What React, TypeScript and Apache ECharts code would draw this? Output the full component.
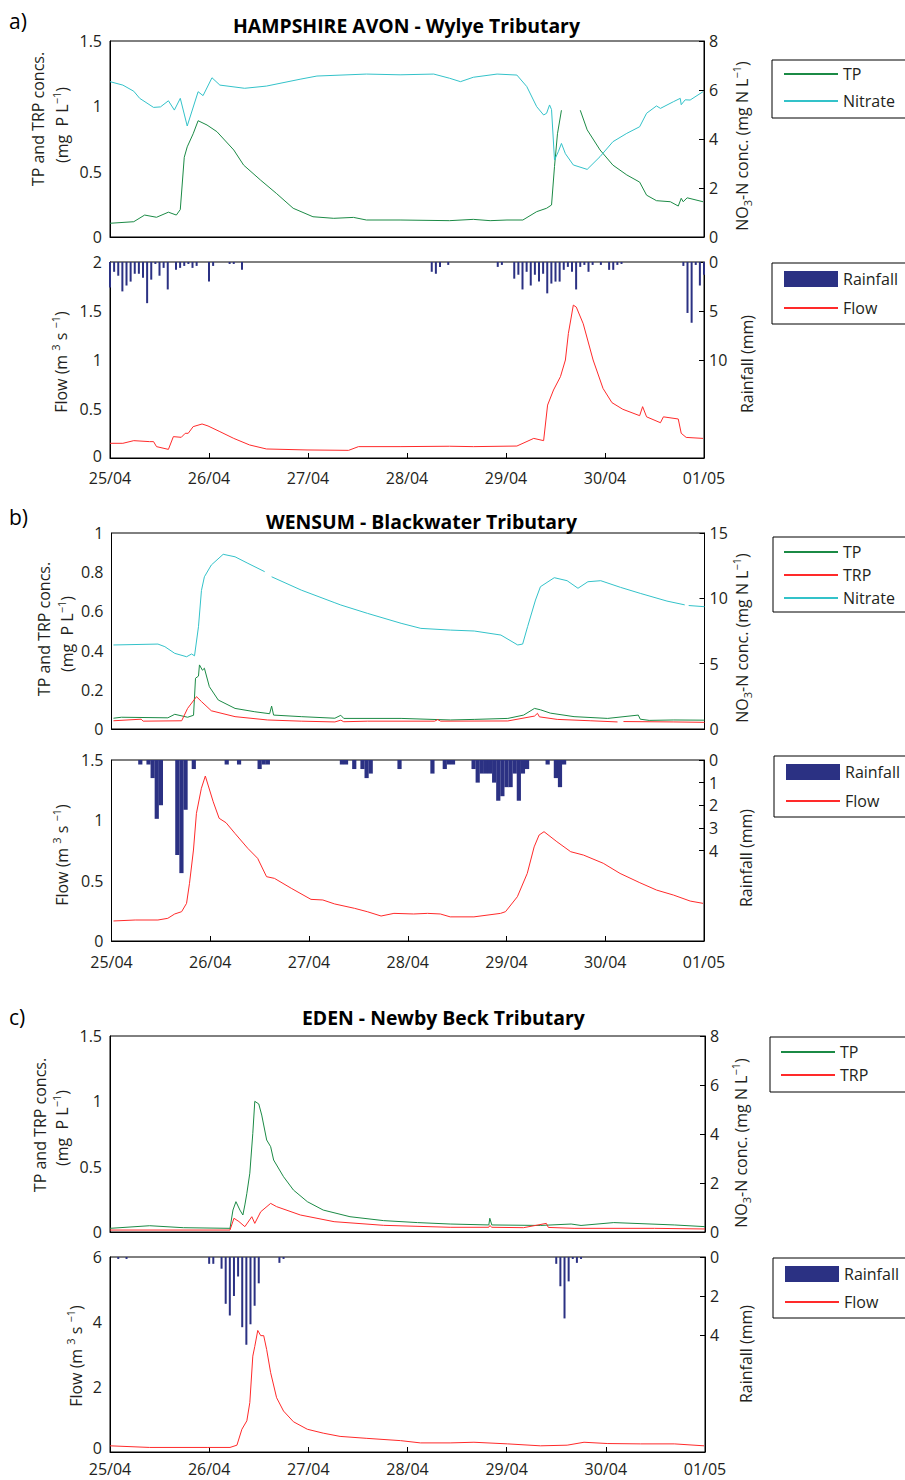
import React, { useEffect, useRef } from 'react';
import * as echarts from 'echarts';

const DAY_LABELS = ['25/04', '26/04', '27/04', '28/04', '29/04', '30/04', '01/05'];

// ---- Panel a: HAMPSHIRE AVON - Wylye (x = days since 25/04 00:00) ----
const aTP = [[0,0.105],[0.24,0.117],[0.35,0.168],[0.47,0.151],[0.59,0.19],[0.67,0.168],[0.71,0.21],[0.75,0.61],[0.78,0.69],[0.84,0.79],[0.89,0.89],[0.98,0.857],[1.08,0.806],[1.25,0.666],[1.35,0.55],[1.52,0.436],[1.68,0.334],[1.85,0.22],[2.05,0.155],[2.26,0.143],[2.46,0.15],[2.59,0.13],[2.93,0.13],[3.43,0.125],[3.67,0.135],[3.84,0.125],[4.01,0.13],[4.17,0.13],[4.31,0.194],[4.41,0.22],[4.46,0.245],[4.49,0.54],[4.52,0.79],[4.56,0.97],[4.65,null],[4.75,0.97],[4.82,0.82],[4.95,0.666],[5.08,0.55],[5.22,0.475],[5.35,0.42],[5.42,0.32],[5.52,0.278],[5.66,0.27],[5.74,0.237],[5.77,0.296],[5.79,0.27],[5.83,0.3],[5.99,0.27]];
const aNitrate = [[0,6.34],[0.13,6.2],[0.24,5.95],[0.3,5.66],[0.44,5.29],[0.51,5.31],[0.59,5.56],[0.65,5.18],[0.71,5.66],[0.78,4.53],[0.89,5.93],[0.94,5.77],[1.03,6.5],[1.11,6.2],[1.36,6.07],[1.58,6.16],[1.92,6.44],[2.09,6.57],[2.59,6.65],[2.93,6.62],[3.27,6.65],[3.43,6.48],[3.54,6.34],[3.67,6.52],[3.91,6.65],[4.11,6.61],[4.21,6.14],[4.31,5.32],[4.38,4.98],[4.41,5.05],[4.44,5.39],[4.46,5.2],[4.49,3.14],[4.53,3.5],[4.56,3.82],[4.6,3.4],[4.68,2.94],[4.82,2.76],[4.95,3.28],[5.08,3.89],[5.22,4.23],[5.35,4.5],[5.42,5.05],[5.52,5.35],[5.56,5.25],[5.69,5.52],[5.76,5.66],[5.77,5.4],[5.81,5.6],[5.86,5.59],[5.99,5.93]];
const aFlow = [[0,0.15],[0.13,0.15],[0.24,0.177],[0.4,0.167],[0.44,0.167],[0.47,0.116],[0.59,0.088],[0.64,0.218],[0.72,0.211],[0.76,0.252],[0.79,0.252],[0.84,0.32],[0.93,0.347],[0.99,0.327],[1.11,0.269],[1.25,0.2],[1.41,0.133],[1.58,0.092],[1.99,0.082],[2.41,0.078],[2.51,0.116],[2.93,0.116],[3.43,0.12],[3.67,0.116],[4.11,0.122],[4.28,0.2],[4.38,0.177],[4.42,0.54],[4.48,0.694],[4.55,0.83],[4.6,1.0],[4.63,1.27],[4.68,1.56],[4.71,1.54],[4.78,1.37],[4.88,1.0],[4.98,0.71],[5.07,0.565],[5.18,0.497],[5.35,0.432],[5.38,0.524],[5.42,0.42],[5.56,0.36],[5.59,0.42],[5.74,0.398],[5.77,0.252],[5.82,0.21],[5.99,0.2]];
// rainfall: [hour since 25/04 00:00, mm]
const aRain = [[0,2.6],[1,1.0],[2,1.4],[3,3.0],[4,2.4],[5,2.0],[6,1.2],[7,1.2],[8,1.6],[9,4.2],[10,1.8],[11,0.2],[12,1.4],[13,0.6],[14,2.8],[16,0.8],[17,0.6],[18,0.4],[19,0.2],[20,0.6],[21,0.4],[24,2.0],[25,0.4],[29,0.2],[30,0.2],[32,0.8],[78,1.0],[79,1.2],[80,0.5],[82,0.3],[94,0.5],[95,0.3],[98,1.7],[99,1.3],[100,2.8],[101,1.0],[102,2.4],[103,1.3],[104,2.0],[105,1.2],[106,3.2],[107,2.2],[108,2.0],[109,2.0],[110,0.8],[111,0.5],[112,1.0],[113,2.8],[114,0.5],[115,0.3],[116,1.0],[117,0.3],[119,0.3],[121,0.8],[122,0.8],[123,0.3],[124,0.2],[139,0.4],[140,5.2],[141,6.2],[142,0.3],[143,2.4],[144,1.3]];

// ---- Panel b: WENSUM - Blackwater ----
const bTP = [[0.02,0.055],[0.1,0.06],[0.57,0.057],[0.64,0.075],[0.77,0.06],[0.83,0.07],[0.85,0.259],[0.88,0.27],[0.89,0.327],[0.92,0.3],[0.94,0.31],[0.99,0.216],[1.08,0.148],[1.25,0.105],[1.45,0.088],[1.6,0.078],[1.62,0.117],[1.64,0.071],[1.92,0.063],[2.26,0.055],[2.32,0.07],[2.35,0.054],[2.93,0.054],[3.43,0.046],[3.67,0.049],[4.01,0.054],[4.17,0.071],[4.28,0.105],[4.34,0.098],[4.44,0.081],[4.68,0.063],[5.02,0.054],[5.33,0.071],[5.35,0.05],[5.44,0.044],[5.69,0.046],[6.0,0.045]];
const bTRP = [[0.02,0.042],[0.3,0.05],[0.32,0.04],[0.71,0.042],[0.77,0.105],[0.86,0.165],[0.91,0.14],[1.01,0.093],[1.25,0.063],[1.58,0.046],[1.92,0.04],[2.26,0.036],[2.32,0.045],[2.35,0.037],[2.59,0.04],[3.27,0.04],[3.3,0.048],[3.33,0.04],[4.01,0.041],[4.28,0.066],[4.31,0.08],[4.33,0.062],[4.51,0.049],[4.85,0.042],[5.12,0.036],[5.15,null],[5.18,0.038],[5.69,0.036],[6.0,0.034]];
const bNitrate = [[0.02,6.43],[0.47,6.5],[0.54,6.3],[0.64,5.79],[0.76,5.53],[0.81,5.74],[0.84,5.6],[0.88,7.83],[0.91,10.6],[0.94,11.65],[1.01,12.55],[1.13,13.37],[1.25,13.18],[1.38,12.68],[1.55,12.04],[1.58,null],[1.62,11.65],[1.92,10.63],[2.26,9.66],[2.32,9.49],[2.59,8.85],[2.93,8.09],[3.13,7.7],[3.43,7.57],[3.67,7.5],[3.94,7.19],[4.11,6.43],[4.16,6.5],[4.21,7.83],[4.29,9.87],[4.34,10.89],[4.48,11.58],[4.61,11.35],[4.72,10.77],[4.82,11.27],[4.95,11.35],[5.15,10.84],[5.35,10.38],[5.62,9.79],[5.8,9.5],[5.82,null],[5.84,9.45],[6.0,9.36]];
const bFlow = [[0.02,0.166],[0.24,0.174],[0.47,0.174],[0.57,0.188],[0.64,0.224],[0.71,0.243],[0.76,0.312],[0.79,0.478],[0.83,0.754],[0.86,1.058],[0.91,1.265],[0.95,1.367],[1.03,1.154],[1.09,1.017],[1.16,0.98],[1.25,0.892],[1.38,0.768],[1.48,0.685],[1.57,0.533],[1.65,0.519],[1.82,0.437],[2.02,0.345],[2.14,0.34],[2.26,0.307],[2.46,0.271],[2.59,0.243],[2.73,0.207],[2.86,0.229],[3.06,0.224],[3.2,0.229],[3.33,0.224],[3.43,0.2],[3.67,0.2],[3.94,0.229],[3.99,0.243],[4.11,0.367],[4.21,0.56],[4.28,0.78],[4.33,0.878],[4.38,0.906],[4.51,0.823],[4.65,0.74],[4.78,0.712],[4.98,0.644],[5.15,0.56],[5.35,0.483],[5.52,0.422],[5.69,0.381],[5.86,0.331],[5.99,0.312]];
const bRain = [[7,0.2],[9,0.2],[10,0.8],[11,2.6],[12,2.0],[16,4.2],[17,5.0],[18,2.2],[20,0.4],[28,0.2],[31,0.2],[36,0.4],[37,0.2],[38,0.2],[56,0.2],[57,0.2],[59,0.4],[61,0.4],[62,0.8],[63,0.6],[70,0.4],[78,0.6],[81,0.4],[82,0.2],[83,0.2],[88,0.4],[89,1.0],[90,0.6],[91,0.6],[92,0.6],[93,1.0],[94,1.8],[95,1.6],[96,1.2],[97,1.2],[98,0.6],[99,1.8],[100,0.6],[101,0.4],[106,0.2],[108,0.8],[109,1.2],[110,0.2]];

// ---- Panel c: EDEN - Newby Beck ----
const cTP = [[0,0.028],[0.4,0.048],[0.74,0.033],[1.21,0.028],[1.24,0.168],[1.27,0.232],[1.31,0.168],[1.34,0.13],[1.36,0.207],[1.38,0.296],[1.41,0.45],[1.44,0.755],[1.46,1.0],[1.5,0.98],[1.53,0.895],[1.58,0.704],[1.62,0.653],[1.65,0.551],[1.75,0.423],[1.85,0.321],[1.99,0.232],[2.15,0.168],[2.42,0.117],[2.76,0.087],[3.1,0.072],[3.43,0.061],[3.82,0.054],[3.83,0.105],[3.85,0.054],[4.34,0.05],[4.65,0.061],[4.75,0.05],[5.08,0.072],[5.69,0.054],[6.0,0.041]];
const cTRP = [[0,0.015],[1.21,0.015],[1.25,0.105],[1.3,0.08],[1.36,0.041],[1.43,0.117],[1.46,0.066],[1.52,0.155],[1.62,0.219],[1.68,0.194],[1.92,0.13],[2.26,0.079],[2.76,0.051],[3.43,0.036],[3.82,0.036],[3.83,0.05],[3.85,0.036],[4.17,0.033],[4.4,0.066],[4.42,0.035],[4.68,0.028],[5.49,0.028],[6.0,0.023]];
const cFlow = [[0,0.19],[0.4,0.14],[0.98,0.14],[1.21,0.14],[1.28,0.21],[1.33,0.7],[1.38,0.96],[1.41,1.52],[1.44,2.95],[1.46,3.25],[1.49,3.74],[1.52,3.58],[1.55,3.58],[1.58,3.15],[1.62,2.44],[1.68,1.67],[1.75,1.26],[1.85,0.93],[1.99,0.7],[2.15,0.58],[2.32,0.48],[2.59,0.42],[2.93,0.35],[3.13,0.28],[3.43,0.28],[3.67,0.3],[4.01,0.25],[4.34,0.19],[4.61,0.21],[4.78,0.3],[5.02,0.26],[5.35,0.25],[5.69,0.25],[5.99,0.19]];
const cRain = [[2,0.1],[4,0.1],[24,0.35],[25,0.35],[27,0.6],[28,2.4],[29,3.0],[30,2.0],[31,1.0],[32,3.6],[33,4.5],[34,3.45],[35,2.5],[36,1.35],[41,0.3],[42,0.1],[108,0.35],[109,1.5],[110,3.15],[111,1.25],[112,0.1],[113,0.3],[114,0.1]];

const F = "'Open Sans', 'Noto Sans', sans-serif";
const INK = '#231f20';
const GREEN = '#1b8a45';
const CYAN = '#33c2c9';
const RED = '#ff2a2a';
const NAVY = '#2b3183';

const GRIDS = [
  { left: 110, top: 41, width: 594, height: 196 },
  { left: 110, top: 262, width: 594, height: 196 },
  { left: 111.5, top: 533, width: 593, height: 196 },
  { left: 111.5, top: 760, width: 592.5, height: 181 },
  { left: 110, top: 1036, width: 595, height: 196 },
  { left: 110, top: 1257, width: 595, height: 195 },
];
const X_LABEL_MARGIN = [0, 14, 0, 15, 0, 11];

const rich = {
  n: { fontSize: 16, fontFamily: F, fill: INK, lineHeight: 22 },
  sup: { fontSize: 11, fontFamily: F, fill: INK, verticalAlign: 'top', lineHeight: 12 },
  sub: { fontSize: 11, fontFamily: F, fill: INK, verticalAlign: 'bottom', lineHeight: 12 },
};

function vText(text: string, x: number, y: number) {
  return {
    type: 'text', x, y, rotation: Math.PI / 2, silent: true,
    style: { text, rich, align: 'center', verticalAlign: 'middle', textAlign: 'center', textVerticalAlign: 'middle' },
  };
}
function hText(text: string, x: number, y: number, size: number, bold: boolean) {
  return {
    type: 'text', x, y, silent: true,
    style: { text, fill: '#000', fontSize: size, fontFamily: F, fontWeight: bold ? 'bold' : 'normal', align: 'left', verticalAlign: 'middle', textAlign: 'left', textVerticalAlign: 'middle' },
  };
}

const TP_LBL1 = '{n|TP and TRP concs.}';
const TP_LBL2 = '{n|(mg  P L}{sup|−1}{n|)}';
const NO3_LBL = '{n|NO}{sub|3}{n|-N conc. (mg N L}{sup|−1}{n|)}';
const FLOW_LBL = '{n|Flow (m }{sup|3}{n| s }{sup|−1}{n|)}';
const RAIN_LBL = '{n|Rainfall (mm)}';

function buildOption() {
  const xAxis = GRIDS.map((g, i) => {
    const bottom = i % 2 === 1;
    return {
      type: 'value', gridIndex: i, min: 0, max: 6, interval: 1,
      axisLine: { show: true, lineStyle: { color: '#000', width: 1 } },
      axisTick: { show: bottom, inside: true, length: 5, lineStyle: { color: '#000' } },
      axisLabel: {
        show: bottom, margin: X_LABEL_MARGIN[i], fontSize: 16, lineHeight: 12, fontFamily: F, color: INK,
        formatter: (v: number) => DAY_LABELS[Math.round(v)] ?? '',
      },
      splitLine: { show: false },
    };
  });
  const leftAxis = (gi: number, max: number, interval: number, liftZero = 0) => ({
    type: 'value', gridIndex: gi, position: 'left', min: 0, max, interval,
    axisLine: { show: true, lineStyle: { color: '#000' } },
    axisTick: { show: false },
    axisLabel: liftZero
      ? {
          margin: 8, fontSize: 16, lineHeight: 12, fontFamily: F, color: INK,
          formatter: (v: number) => (v === 0 ? '{z|0}' : String(v)),
          rich: { z: { fontSize: 16, fontFamily: F, color: INK, lineHeight: 12, padding: [0, 0, liftZero, 0] } },
        }
      : { margin: 8, fontSize: 16, lineHeight: 12, fontFamily: F, color: INK },
    splitLine: { show: false },
  });
  const rightAxis = (gi: number, max: number, interval: number, inverse = false, shown?: number[]) => ({
    type: 'value', gridIndex: gi, position: 'right', min: 0, max, interval, inverse,
    axisLine: { show: true, lineStyle: { color: '#000' } },
    axisTick: shown
      ? { show: true, inside: true, length: 5, lineStyle: { color: '#000' }, customValues: shown }
      : { show: true, inside: true, length: 5, lineStyle: { color: '#000' } },
    axisLabel: shown
      ? { margin: 5, fontSize: 16, lineHeight: 12, fontFamily: F, color: INK, customValues: shown, formatter: (v: number) => (shown.indexOf(v) >= 0 ? String(v) : '') }
      : { margin: 5, fontSize: 16, lineHeight: 12, fontFamily: F, color: INK },
    splitLine: { show: false },
  });
  const yAxis = [
    leftAxis(0, 1.5, 0.5), rightAxis(0, 8, 2),
    leftAxis(1, 2, 0.5, 4), rightAxis(1, 20, 5, true, [0, 5, 10]),
    leftAxis(2, 1, 0.2), rightAxis(2, 15, 5),
    leftAxis(3, 1.5, 0.5), rightAxis(3, 8, 1, true, [0, 1, 2, 3, 4]),
    leftAxis(4, 1.5, 0.5), rightAxis(4, 8, 2),
    leftAxis(5, 6, 2, 8), rightAxis(5, 10, 2, true, [0, 2, 4]),
  ];
  const line = (name: string, data: any[], color: string, xi: number, yi: number) => ({
    type: 'line', name, data, xAxisIndex: xi, yAxisIndex: yi, showSymbol: false, symbol: 'none',
    connectNulls: false, lineStyle: { color, width: 1 }, itemStyle: { color }, z: 3,
  });
  const bars = (data: number[][], xi: number, yi: number, w: number) => ({
    type: 'bar', name: 'Rainfall', data: data.map(([h, v]) => [h / 24, v]), xAxisIndex: xi, yAxisIndex: yi,
    barWidth: w, itemStyle: { color: NAVY }, z: 2,
  });
  const series = [
    line('TP', aTP, GREEN, 0, 0), line('Nitrate', aNitrate, CYAN, 0, 1),
    bars(aRain, 1, 3, 2), line('Flow', aFlow, RED, 1, 2),
    line('TP', bTP, GREEN, 2, 4), line('TRP', bTRP, RED, 2, 4), line('Nitrate', bNitrate, CYAN, 2, 5),
    bars(bRain, 3, 7, 4.2), line('Flow', bFlow, RED, 3, 6),
    line('TP', cTP, GREEN, 4, 8), line('TRP', cTRP, RED, 4, 8),
    bars(cRain, 5, 11, 2), line('Flow', cFlow, RED, 5, 10),
  ];
  const L = (name: string) => ({ name, itemStyle: { opacity: 0 } });
  const lg = (data: any[], left: number, top: number, padding: number[], itemGap: number) => ({
    data, left, top, padding, itemGap, orient: 'vertical', itemWidth: 54, itemHeight: 16,
    borderColor: '#000', borderWidth: 1, borderRadius: 0, selectedMode: false, backgroundColor: '#fff',
    textStyle: { fontSize: 16, fontFamily: F, color: INK },
  });
  const RF = { name: 'Rainfall', icon: 'rect' };
  const legend = [
    lg([L('TP'), L('Nitrate')], 772, 60, [6, 40, 9, 11], 11),
    lg([RF, L('Flow')], 772, 263, [8, 40, 8, 11], 13),
    lg([L('TP'), L('TRP'), L('Nitrate')], 773, 537, [7, 40, 6, 10], 7),
    lg([RF, L('Flow')], 774, 756, [8, 40, 8, 11], 13),
    lg([L('TP'), L('TRP')], 770, 1037, [7, 40, 9, 10], 7),
    lg([RF, L('Flow')], 773, 1258, [8, 40, 8, 11], 12),
  ];
  const graphic = [
    hText('a)', 9, 21, 21, false),
    hText('b)', 9, 517, 21, false),
    hText('c)', 9, 1017, 21, false),
    hText('HAMPSHIRE AVON - Wylye Tributary', 233, 25, 19.4, true),
    hText('WENSUM - Blackwater Tributary', 266, 521, 19.4, true),
    hText('EDEN - Newby Beck Tributary', 302, 1017, 19.4, true),
    vText(TP_LBL1, 38, 119), vText(TP_LBL2, 62, 125), vText(NO3_LBL, 742, 146),
    vText(FLOW_LBL, 61, 362), vText(RAIN_LBL, 747, 364),
    vText(TP_LBL1, 43.5, 629), vText(TP_LBL2, 67, 634), vText(NO3_LBL, 742, 638),
    vText(FLOW_LBL, 62, 855), vText(RAIN_LBL, 746, 858),
    vText(TP_LBL1, 40, 1125), vText(TP_LBL2, 62, 1128), vText(NO3_LBL, 741, 1143),
    vText(FLOW_LBL, 76, 1356), vText(RAIN_LBL, 746, 1354),
  ];
  return {
    animation: false,
    backgroundColor: '#fff',
    textStyle: { fontFamily: F },
    grid: GRIDS.map((g) => ({ ...g, show: true, borderColor: '#000', borderWidth: 1, backgroundColor: 'transparent', containLabel: false, outerBoundsMode: 'none' })),
    xAxis, yAxis, series, legend, graphic,
  };
}

export default function App() {
  const ref = useRef<HTMLDivElement>(null);
  useEffect(() => {
    const chart = echarts.init(ref.current!, null, { renderer: 'svg', width: 905, height: 1480 });
    chart.setOption(buildOption() as any);
    return () => chart.dispose();
  }, []);
  return <div ref={ref} style={{ position: 'absolute', left: 0, top: 0, width: 905, height: 1480, background: '#fff' }} />;
}
